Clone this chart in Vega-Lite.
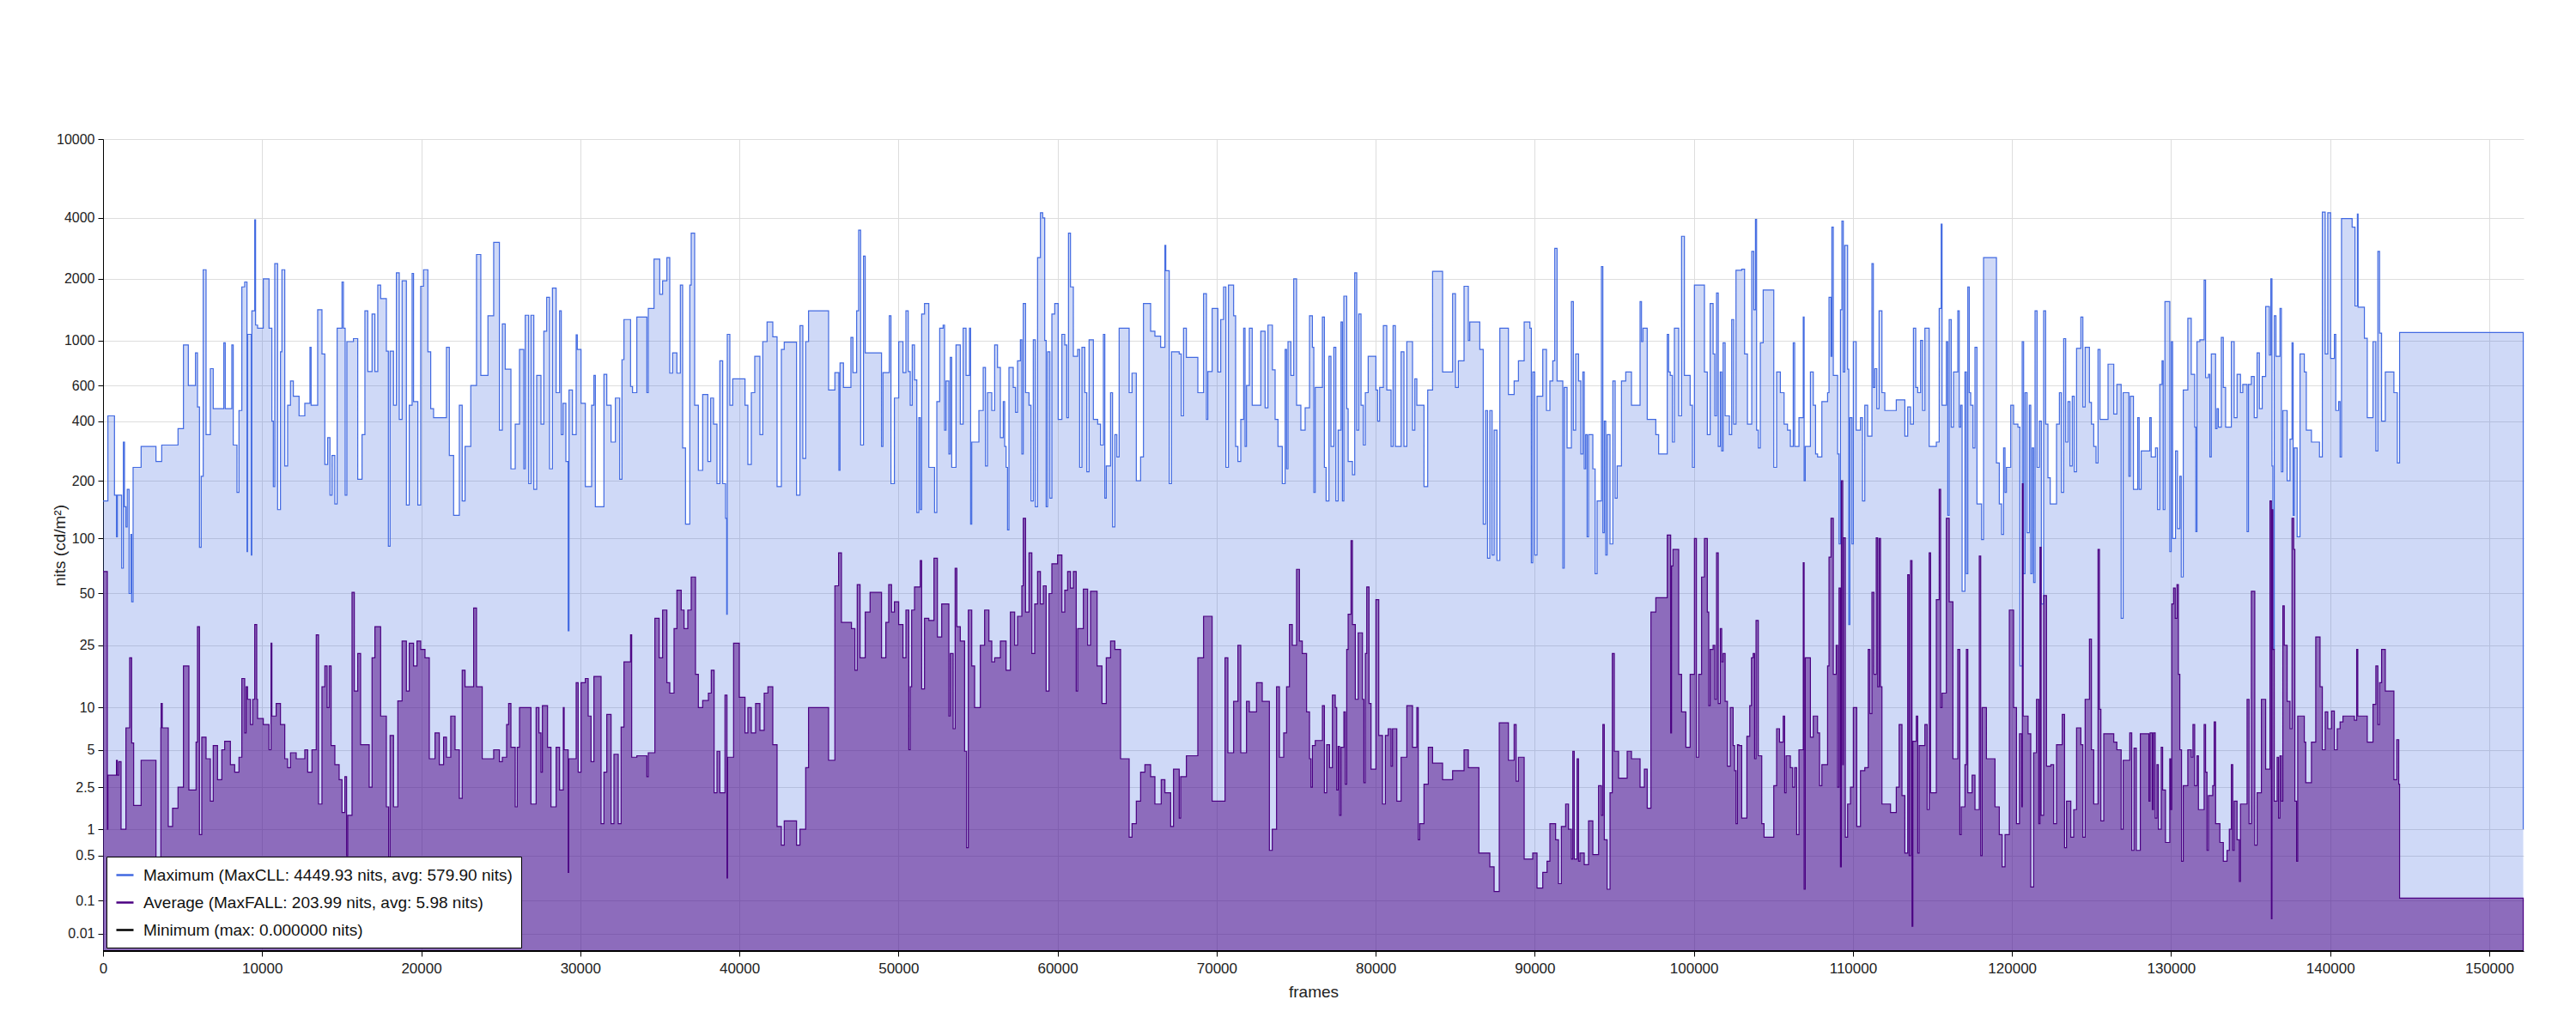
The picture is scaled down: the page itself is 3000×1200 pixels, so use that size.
{
"$schema": "https://vega.github.io/schema/vega-lite/v6.json",
"width": 2819,
"height": 946,
"autosize": {"type": "none"},
"padding": {"left": 120, "top": 162, "right": 61, "bottom": 92},
"background": "white",
"config": {"font": "Liberation Sans", "view": {"stroke": null}},
"datasets": {
"mx": [
{"f":0,"v":165},{"f":306,"v":430},{"f":719,"v":175},{"f":845,"v":103},{"f":900,"v":175},{"f":1169,"v":73},{"f":1277,"v":330},{"f":1350,"v":155},{"f":1439,"v":120},{"f":1520,"v":185},{"f":1637,"v":50},{"f":1750,"v":107},{"f":1800,"v":46},{"f":1889,"v":245},{"f":2393,"v":315},{"f":3328,"v":265},{"f":3688,"v":320},{"f":4713,"v":375},{"f":5055,"v":960},{"f":5361,"v":600},{"f":5811,"v":890},{"f":5937,"v":480},{"f":6062,"v":92},{"f":6170,"v":215},{"f":6296,"v":2300},{"f":6476,"v":355},{"f":6746,"v":750},{"f":6926,"v":470},{"f":7592,"v":980},{"f":7682,"v":470},{"f":8095,"v":960},{"f":8185,"v":320},{"f":8419,"v":180},{"f":8545,"v":460},{"f":8725,"v":1870},{"f":8905,"v":1950},{"f":9049,"v":88},{"f":9085,"v":1100},{"f":9319,"v":85},{"f":9355,"v":1480},{"f":9535,"v":3940},{"f":9589,"v":1250},{"f":9715,"v":1200},{"f":10074,"v":2000},{"f":10434,"v":1200},{"f":10614,"v":400},{"f":10704,"v":190},{"f":10794,"v":2500},{"f":10974,"v":150},{"f":11154,"v":900},{"f":11244,"v":2300},{"f":11424,"v":250},{"f":11603,"v":490},{"f":11783,"v":640},{"f":11963,"v":540},{"f":12323,"v":430},{"f":12683,"v":500},{"f":13007,"v":940},{"f":13079,"v":490},{"f":13492,"v":1500},{"f":13762,"v":880},{"f":13942,"v":255},{"f":14122,"v":345},{"f":14266,"v":175},{"f":14392,"v":285},{"f":14572,"v":160},{"f":14716,"v":1200},{"f":15022,"v":1950},{"f":15112,"v":1200},{"f":15220,"v":175},{"f":15328,"v":990},{"f":15741,"v":1030},{"f":16011,"v":205},{"f":16281,"v":355},{"f":16461,"v":1480},{"f":16641,"v":725},{"f":16910,"v":1430},{"f":17090,"v":725},{"f":17270,"v":1900},{"f":17450,"v":1680},{"f":17810,"v":905},{"f":17936,"v":93},{"f":18044,"v":905},{"f":18260,"v":490},{"f":18440,"v":2200},{"f":18620,"v":410},{"f":18799,"v":1970},{"f":19069,"v":158},{"f":19249,"v":490},{"f":19429,"v":2180},{"f":19519,"v":510},{"f":19789,"v":158},{"f":19969,"v":1880},{"f":20149,"v":2300},{"f":20419,"v":900},{"f":20598,"v":470},{"f":20778,"v":420},{"f":21588,"v":940},{"f":21768,"v":285},{"f":22038,"v":140},{"f":22397,"v":490},{"f":22577,"v":165},{"f":22757,"v":315},{"f":23117,"v":600},{"f":23477,"v":2800},{"f":23747,"v":690},{"f":24196,"v":1400},{"f":24556,"v":3200},{"f":24916,"v":370},
{"f":25100,"v":1270},{"f":25280,"v":745},{"f":25640,"v":240},{"f":25910,"v":390},{"f":26179,"v":920},{"f":26449,"v":240},{"f":26539,"v":1410},{"f":26755,"v":195},{"f":26899,"v":1410},{"f":27079,"v":185},{"f":27259,"v":690},{"f":27529,"v":390},{"f":27709,"v":1150},{"f":27888,"v":1700},{"f":28068,"v":240},{"f":28248,"v":1850},{"f":28482,"v":560},{"f":28698,"v":1480},{"f":28806,"v":355},{"f":28914,"v":500},{"f":29094,"v":265},{"f":29238,"v":32},{"f":29292,"v":575},{"f":29508,"v":355},{"f":29741,"v":1090},{"f":29813,"v":920},{"f":30047,"v":500},{"f":30317,"v":190},{"f":30713,"v":490},{"f":30857,"v":690},{"f":30947,"v":155},{"f":31486,"v":700},{"f":31666,"v":490},{"f":31936,"v":330},{"f":32206,"v":530},{"f":32476,"v":205},{"f":32620,"v":830},{"f":32746,"v":1340},{"f":33160,"v":595},{"f":33285,"v":560},{"f":33555,"v":1380},{"f":34185,"v":560},{"f":34275,"v":1520},{"f":34635,"v":2650},{"f":34995,"v":1750},{"f":35174,"v":1970},{"f":35444,"v":2700},{"f":35624,"v":710},{"f":35804,"v":890},{"f":36074,"v":710},{"f":36290,"v":1900},{"f":36434,"v":310},{"f":36614,"v":125},{"f":36884,"v":1900},{"f":36973,"v":3500},{"f":37189,"v":490},{"f":37423,"v":235},{"f":37693,"v":550},{"f":38017,"v":265},{"f":38197,"v":530},{"f":38377,"v":390},{"f":38593,"v":195},{"f":38772,"v":820},{"f":38952,"v":195},{"f":39132,"v":135},{"f":39204,"v":40},{"f":39240,"v":1100},{"f":39402,"v":490},{"f":39582,"v":660},{"f":40356,"v":490},{"f":40535,"v":255},{"f":40751,"v":560},{"f":40967,"v":860},{"f":41291,"v":355},{"f":41471,"v":990},{"f":41741,"v":1300},{"f":42101,"v":1060},{"f":42370,"v":190},{"f":42640,"v":920},{"f":42820,"v":985},{"f":43594,"v":175},{"f":43810,"v":1240},{"f":43990,"v":275},{"f":44169,"v":990},{"f":44349,"v":1480},{"f":45609,"v":575},{"f":46004,"v":715},{"f":46256,"v":235},{"f":46328,"v":800},{"f":46544,"v":590},{"f":47012,"v":1050},{"f":47138,"v":715},{"f":47372,"v":1480},{"f":47498,"v":3600},{"f":47623,"v":320},{"f":47803,"v":2750},{"f":47911,"v":890},{"f":48937,"v":315},{"f":49027,"v":715},{"f":49423,"v":1400},{"f":49530,"v":195},{"f":49746,"v":530},{"f":50016,"v":990},{"f":50286,"v":715},
{"f":50470,"v":1480},{"f":50614,"v":725},{"f":50740,"v":490},{"f":50866,"v":960},{"f":51010,"v":650},{"f":51154,"v":145},{"f":51280,"v":420},{"f":51370,"v":150},{"f":51459,"v":1430},{"f":51639,"v":1600},{"f":51909,"v":245},{"f":52269,"v":145},{"f":52413,"v":510},{"f":52593,"v":1200},{"f":52809,"v":1250},{"f":52899,"v":370},{"f":52989,"v":640},{"f":53169,"v":290},{"f":53258,"v":850},{"f":53348,"v":245},{"f":53618,"v":960},{"f":53888,"v":390},{"f":54068,"v":1200},{"f":54248,"v":690},{"f":54464,"v":1200},{"f":54536,"v":125},{"f":54608,"v":330},{"f":55057,"v":460},{"f":55327,"v":760},{"f":55471,"v":250},{"f":55597,"v":560},{"f":55867,"v":460},{"f":56047,"v":960},{"f":56227,"v":760},{"f":56407,"v":345},{"f":56587,"v":510},{"f":56677,"v":315},{"f":56767,"v":245},{"f":56857,"v":115},{"f":56946,"v":760},{"f":57216,"v":590},{"f":57360,"v":450},{"f":57486,"v":820},{"f":57666,"v":1010},{"f":57756,"v":290},{"f":57846,"v":1600},{"f":57990,"v":560},{"f":58206,"v":490},{"f":58332,"v":165},{"f":58476,"v":1010},{"f":58602,"v":155},{"f":58745,"v":2700},{"f":58925,"v":4400},{"f":59069,"v":4000},{"f":59195,"v":1000},{"f":59285,"v":155},{"f":59375,"v":900},{"f":59519,"v":170},{"f":59645,"v":1430},{"f":59825,"v":1600},{"f":60041,"v":410},{"f":60275,"v":1100},{"f":60454,"v":960},{"f":60580,"v":420},{"f":60688,"v":3500},{"f":60814,"v":1870},{"f":60994,"v":860},{"f":61264,"v":920},{"f":61390,"v":245},{"f":61534,"v":940},{"f":61714,"v":560},{"f":61840,"v":230},{"f":61983,"v":1010},{"f":62253,"v":410},{"f":62523,"v":390},{"f":62703,"v":320},{"f":62883,"v":1100},{"f":62973,"v":170},{"f":63063,"v":250},{"f":63333,"v":560},{"f":63459,"v":120},{"f":63603,"v":355},{"f":63729,"v":280},{"f":63873,"v":1200},{"f":64502,"v":560},{"f":64682,"v":710},{"f":64952,"v":200},{"f":65222,"v":280},{"f":65402,"v":1600},{"f":65852,"v":1150},{"f":66121,"v":1070},{"f":66481,"v":940},{"f":66751,"v":3100},{"f":66805,"v":2270},{"f":67021,"v":195},{"f":67165,"v":900},{"f":67650,"v":880},{"f":67776,"v":430},{"f":67920,"v":1200},{"f":68100,"v":850},{"f":68820,"v":560},{"f":69180,"v":1760},{"f":69360,"v":410},{"f":69450,"v":725},{"f":69719,"v":1520},{"f":70079,"v":720},{"f":70259,"v":1340},{"f":70439,"v":1870},{"f":70583,"v":245},{"f":70745,"v":1900},{"f":71069,"v":1400},{"f":71195,"v":315},{"f":71339,"v":265},{"f":71519,"v":410},{"f":71699,"v":1200},{"f":71789,"v":315},{"f":71879,"v":600},{"f":72058,"v":1200},{"f":72238,"v":490},{"f":72418,"v":490},{"f":72778,"v":1150},{"f":73048,"v":475},{"f":73228,"v":1250},{"f":73508,"v":740},{"f":73678,"v":410},{"f":73858,"v":315},{"f":74128,"v":195},{"f":74308,"v":920},{"f":74398,"v":240},{"f":74488,"v":990},{"f":74668,"v":690},{"f":74848,"v":2000},{"f":75026,"v":490},{"f":75296,"v":370},{"f":75566,"v":475},
{"f":75840,"v":1400},{"f":76020,"v":940},{"f":76110,"v":180},{"f":76200,"v":590},{"f":76650,"v":1380},{"f":76775,"v":245},{"f":76883,"v":165},{"f":77063,"v":860},{"f":77189,"v":315},{"f":77369,"v":940},{"f":77495,"v":165},{"f":77639,"v":370},{"f":77819,"v":1300},{"f":77909,"v":165},{"f":77999,"v":1720},{"f":78179,"v":470},{"f":78269,"v":265},{"f":78539,"v":220},{"f":78682,"v":2200},{"f":78808,"v":370},{"f":78934,"v":1430},{"f":79078,"v":490},{"f":79222,"v":320},{"f":79348,"v":560},{"f":79528,"v":860},{"f":80014,"v":575},{"f":80122,"v":400},{"f":80248,"v":590},{"f":80481,"v":1240},{"f":80697,"v":575},{"f":80967,"v":315},{"f":81093,"v":1240},{"f":81237,"v":315},{"f":81597,"v":900},{"f":81777,"v":315},{"f":81957,"v":990},{"f":82316,"v":370},{"f":82460,"v":660},{"f":82586,"v":490},{"f":82766,"v":490},{"f":83036,"v":190},{"f":83270,"v":575},{"f":83576,"v":2250},{"f":84205,"v":720},{"f":84835,"v":1760},{"f":85015,"v":590},{"f":85195,"v":820},{"f":85554,"v":1880},{"f":85824,"v":1000},{"f":85914,"v":1300},{"f":86544,"v":920},{"f":86760,"v":125},{"f":86904,"v":460},{"f":87030,"v":82},{"f":87174,"v":460},{"f":87318,"v":85},{"f":87444,"v":370},{"f":87624,"v":80},{"f":87804,"v":1200},{"f":88344,"v":550},{"f":88703,"v":640},{"f":88973,"v":820},{"f":89333,"v":1300},{"f":89693,"v":1200},{"f":89783,"v":78},{"f":89872,"v":720},{"f":89998,"v":85},{"f":90142,"v":540},{"f":90502,"v":920},{"f":90736,"v":460},{"f":90951,"v":640},{"f":91131,"v":820},{"f":91257,"v":3000},{"f":91401,"v":640},{"f":91581,"v":640},{"f":91761,"v":73},{"f":91851,"v":590},{"f":92031,"v":310},{"f":92301,"v":1630},{"f":92427,"v":370},{"f":92571,"v":880},{"f":92751,"v":640},{"f":92895,"v":290},{"f":93020,"v":720},{"f":93110,"v":240},{"f":93200,"v":355},{"f":93290,"v":103},{"f":93380,"v":355},{"f":93650,"v":240},{"f":93794,"v":68},{"f":93920,"v":165},{"f":94190,"v":2400},{"f":94280,"v":110},{"f":94370,"v":400},{"f":94460,"v":85},{"f":94550,"v":355},{"f":94730,"v":95},{"f":94909,"v":640},{"f":95053,"v":170},{"f":95179,"v":250},{"f":95449,"v":640},{"f":95719,"v":720},{"f":96079,"v":490},{"f":96619,"v":1630},{"f":96709,"v":990},{"f":96799,"v":1200},{"f":97068,"v":410},{"f":97608,"v":355},{"f":97788,"v":290},{"f":98328,"v":1100},{"f":98418,"v":720},{"f":98517,"v":690},{"f":98651,"v":330},{"f":98777,"v":1200},{"f":99047,"v":430},{"f":99227,"v":3400},{"f":99407,"v":690},{"f":99767,"v":490},{"f":99911,"v":245},{"f":100036,"v":1900},{"f":100666,"v":720},{"f":100846,"v":355},{"f":101026,"v":1600},
{"f":101210,"v":880},{"f":101318,"v":430},{"f":101426,"v":1770},{"f":101534,"v":315},{"f":101660,"v":720},{"f":101750,"v":300},{"f":101840,"v":980},{"f":101966,"v":430},{"f":102235,"v":355},{"f":102379,"v":1340},{"f":102505,"v":390},{"f":102649,"v":2280},{"f":103009,"v":2320},{"f":103189,"v":880},{"f":103369,"v":390},{"f":103639,"v":2900},{"f":103765,"v":1500},{"f":103872,"v":3950},{"f":103944,"v":370},{"f":104052,"v":310},{"f":104178,"v":980},{"f":104358,"v":1820},{"f":105024,"v":245},{"f":105204,"v":720},{"f":105438,"v":560},{"f":105672,"v":390},{"f":105887,"v":370},{"f":106067,"v":315},{"f":106247,"v":980},{"f":106337,"v":315},{"f":106607,"v":420},{"f":106877,"v":1380},{"f":106931,"v":200},{"f":107003,"v":315},{"f":107327,"v":720},{"f":107507,"v":490},{"f":107651,"v":290},{"f":107777,"v":280},{"f":108047,"v":510},{"f":108406,"v":560},{"f":108496,"v":1700},{"f":108622,"v":860},{"f":108676,"v":3700},{"f":108766,"v":690},{"f":109036,"v":290},{"f":109126,"v":95},{"f":109216,"v":1500},{"f":109306,"v":3900},{"f":109396,"v":720},{"f":109485,"v":3100},{"f":109665,"v":745},{"f":109737,"v":35},{"f":109809,"v":420},{"f":109935,"v":95},{"f":110025,"v":990},{"f":110205,"v":370},{"f":110475,"v":420},{"f":110601,"v":165},{"f":110745,"v":490},{"f":110925,"v":350},{"f":111194,"v":2500},{"f":111284,"v":590},{"f":111374,"v":750},{"f":111500,"v":470},{"f":111644,"v":1480},{"f":111824,"v":560},{"f":112004,"v":460},{"f":112724,"v":520},{"f":113263,"v":350},{"f":113443,"v":480},{"f":113623,"v":390},{"f":113803,"v":1200},{"f":113947,"v":590},{"f":114073,"v":560},{"f":114253,"v":1000},{"f":114379,"v":460},{"f":114523,"v":1200},{"f":114793,"v":315},{"f":115242,"v":330},{"f":115422,"v":1520},{"f":115548,"v":3800},{"f":115602,"v":490},{"f":115872,"v":990},{"f":115962,"v":140},{"f":116052,"v":1340},{"f":116178,"v":380},{"f":116322,"v":720},{"f":116592,"v":1480},{"f":116682,"v":380},{"f":116772,"v":490},{"f":116862,"v":52},{"f":117042,"v":720},{"f":117132,"v":68},{"f":117222,"v":1870},{"f":117312,"v":560},{"f":117402,"v":490},{"f":117546,"v":310},{"f":117672,"v":940},{"f":117798,"v":160},{"f":118086,"v":99},{"f":118211,"v":2700},{"f":119021,"v":260},{"f":119200,"v":160},{"f":119344,"v":107},{"f":119470,"v":310},{"f":119560,"v":180},{"f":119650,"v":245},{"f":119920,"v":490},{"f":120100,"v":390},{"f":120370,"v":380},{"f":120496,"v":20},{"f":120640,"v":990},{"f":120730,"v":68},{"f":120820,"v":560},{"f":120946,"v":110},{"f":121088,"v":490},{"f":121178,"v":68},{"f":121268,"v":310},{"f":121358,"v":60},{"f":121448,"v":1480},{"f":121574,"v":245},{"f":121718,"v":400},{"f":121844,"v":45},{"f":121988,"v":1480},{"f":122114,"v":390},{"f":122258,"v":210},{"f":122402,"v":160},{"f":122798,"v":390},{"f":122978,"v":560},{"f":123104,"v":180},{"f":123248,"v":1030},{"f":123374,"v":330},{"f":123518,"v":510},{"f":123643,"v":250},{"f":123787,"v":540},{"f":123913,"v":230},{"f":124057,"v":930},{"f":124327,"v":1380},{"f":124453,"v":480},{"f":124597,"v":940},{"f":124867,"v":505},{"f":124993,"v":390},{"f":125137,"v":315},{"f":125281,"v":260},{"f":125407,"v":920},{"f":125533,"v":410},{"f":126036,"v":790},{"f":126396,"v":440},
{"f":126590,"v":610},{"f":126860,"v":38},{"f":126986,"v":560},{"f":127346,"v":215},{"f":127436,"v":540},{"f":127633,"v":185},{"f":127903,"v":420},{"f":127993,"v":185},{"f":128119,"v":300},{"f":128659,"v":420},{"f":128749,"v":280},{"f":129019,"v":310},{"f":129145,"v":150},{"f":129289,"v":610},{"f":129432,"v":820},{"f":129504,"v":150},{"f":129612,"v":1630},{"f":129918,"v":88},{"f":130008,"v":990},{"f":130098,"v":100},{"f":130278,"v":300},{"f":130404,"v":117},{"f":130548,"v":215},{"f":130638,"v":65},{"f":130764,"v":575},{"f":131052,"v":1360},{"f":131267,"v":700},{"f":131483,"v":380},{"f":131555,"v":112},{"f":131627,"v":990},{"f":131807,"v":1010},{"f":132077,"v":1980},{"f":132167,"v":670},{"f":132347,"v":700},{"f":132437,"v":280},{"f":132527,"v":880},{"f":132797,"v":375},{"f":132887,"v":470},{"f":132977,"v":380},{"f":133157,"v":1050},{"f":133282,"v":590},{"f":133426,"v":380},{"f":133786,"v":990},{"f":133966,"v":420},{"f":134146,"v":700},{"f":134362,"v":560},{"f":134506,"v":610},{"f":134776,"v":112},{"f":134865,"v":610},{"f":135045,"v":680},{"f":135225,"v":420},{"f":135405,"v":890},{"f":135549,"v":470},{"f":135729,"v":680},{"f":135945,"v":1550},{"f":136179,"v":870},{"f":136269,"v":2000},{"f":136341,"v":250},{"f":136395,"v":24},{"f":136485,"v":1400},{"f":136592,"v":860},{"f":136844,"v":1520},{"f":136934,"v":230},{"f":137024,"v":460},{"f":137294,"v":200},{"f":137474,"v":340},{"f":137600,"v":980},{"f":137672,"v":140},{"f":137744,"v":310},{"f":137924,"v":103},{"f":138104,"v":880},{"f":138374,"v":720},{"f":138500,"v":370},{"f":138823,"v":330},{"f":139327,"v":280},{"f":139507,"v":4450},{"f":139687,"v":880},{"f":139849,"v":4400},{"f":140029,"v":840},{"f":140263,"v":1100},{"f":140353,"v":460},{"f":140533,"v":510},{"f":140623,"v":280},{"f":140713,"v":3980},{"f":141379,"v":3700},{"f":141559,"v":1560},{"f":141710,"v":4300},{"f":141755,"v":1540},{"f":142151,"v":1035},{"f":142331,"v":420},{"f":142691,"v":990},{"f":142871,"v":300},{"f":142997,"v":2900},{"f":143105,"v":1120},{"f":143231,"v":400},{"f":143465,"v":720},{"f":144005,"v":560},{"f":144221,"v":260},{"f":144364,"v":1130},{"f":152136,"v":1}
],
"av": [
{"f":0,"v":70},{"f":270,"v":1.0},{"f":306,"v":3.3},{"f":845,"v":4.3},{"f":899,"v":3.3},{"f":989,"v":4.2},{"f":1133,"v":1.0},{"f":1439,"v":7.6},{"f":1673,"v":22},{"f":1799,"v":5.8},{"f":1925,"v":1.85},{"f":2393,"v":4.3},{"f":3328,"v":0.05},{"f":3634,"v":7.6},{"f":3652,"v":11},{"f":3724,"v":7.6},{"f":4101,"v":1.1},{"f":4371,"v":1.75},{"f":4713,"v":2.5},{"f":5055,"v":20},{"f":5397,"v":2.4},{"f":5847,"v":5.9},{"f":5937,"v":34},{"f":6062,"v":0.9},{"f":6206,"v":6.5},{"f":6476,"v":4.4},{"f":6746,"v":2.0},{"f":6926,"v":5.5},{"f":7196,"v":3.0},{"f":7466,"v":5.0},{"f":7646,"v":6},{"f":8005,"v":4},{"f":8275,"v":3.5},{"f":8545,"v":4.5},{"f":8725,"v":17},{"f":8905,"v":7},{"f":8995,"v":15},{"f":9085,"v":12},{"f":9265,"v":8},{"f":9409,"v":12},{"f":9535,"v":35},{"f":9661,"v":12},{"f":9715,"v":8.7},{"f":10074,"v":8},{"f":10434,"v":5},{"f":10560,"v":26},{"f":10614,"v":9},{"f":10884,"v":11},{"f":11154,"v":8},{"f":11424,"v":4.4},{"f":11603,"v":3.8},{"f":11783,"v":4.8},{"f":12143,"v":4.4},{"f":12683,"v":5},{"f":12863,"v":3.5},{"f":13133,"v":5},{"f":13402,"v":30},{"f":13546,"v":1.9},{"f":13762,"v":15},{"f":13942,"v":20},{"f":14086,"v":10},{"f":14212,"v":20},{"f":14338,"v":5.5},{"f":14572,"v":4},{"f":14842,"v":3},{"f":15022,"v":1.6},{"f":15202,"v":3.2},{"f":15310,"v":0.5},{"f":15382,"v":1.5},{"f":15652,"v":51},{"f":15796,"v":14},{"f":16011,"v":23},{"f":16191,"v":5.6},{"f":16731,"v":2.5},{"f":16910,"v":22},{"f":17090,"v":34},{"f":17450,"v":9},{"f":17810,"v":1.8},{"f":17954,"v":0.3},{"f":18044,"v":6.7},{"f":18260,"v":1.8},{"f":18530,"v":11.6},{"f":18799,"v":27},{"f":19069,"v":14},{"f":19249,"v":26},{"f":19519,"v":20},{"f":19735,"v":27},{"f":19969,"v":24},{"f":20239,"v":22},{"f":20509,"v":4.4},{"f":20868,"v":7},{"f":21138,"v":4},{"f":21408,"v":6.5},{"f":21588,"v":4.5},{"f":21858,"v":9},{"f":22128,"v":5},{"f":22397,"v":2.1},{"f":22577,"v":19},{"f":22757,"v":15},{"f":23297,"v":43},{"f":23477,"v":15},{"f":23837,"v":4.4},{"f":24556,"v":5},{"f":24916,"v":4.2},
{"f":25100,"v":4.5},{"f":25370,"v":8},{"f":25496,"v":11},{"f":25640,"v":5.3},{"f":25910,"v":1.8},{"f":26035,"v":5.3},{"f":26179,"v":10},{"f":26899,"v":1.9},{"f":27223,"v":10},{"f":27403,"v":7},{"f":27529,"v":3.5},{"f":27619,"v":10.5},{"f":27942,"v":5.3},{"f":28158,"v":1.8},{"f":28482,"v":5.3},{"f":28698,"v":2.4},{"f":28932,"v":10},{"f":28986,"v":5},{"f":29238,"v":0.35},{"f":29274,"v":4.4},{"f":29741,"v":16},{"f":29867,"v":3.5},{"f":30047,"v":16},{"f":30317,"v":17},{"f":30497,"v":9},{"f":30677,"v":4.2},{"f":30857,"v":17.5},{"f":31306,"v":1.2},{"f":31486,"v":3.5},{"f":31666,"v":9.2},{"f":31936,"v":1.2},{"f":32116,"v":4.7},{"f":32386,"v":1.2},{"f":32566,"v":7.7},{"f":32746,"v":21},{"f":33160,"v":30},{"f":33231,"v":4.5},{"f":33555,"v":4.6},{"f":34185,"v":3.2},{"f":34275,"v":4.8},{"f":34689,"v":38},{"f":34959,"v":22},{"f":35174,"v":42},{"f":35444,"v":16},{"f":35624,"v":13.5},{"f":35894,"v":33},{"f":36074,"v":53},{"f":36344,"v":42},{"f":36524,"v":33},{"f":36758,"v":42},{"f":36973,"v":65},{"f":37243,"v":18},{"f":37423,"v":10},{"f":37693,"v":11.7},{"f":38053,"v":13.5},{"f":38233,"v":19},{"f":38413,"v":2.3},{"f":38593,"v":4.9},{"f":38772,"v":2.3},{"f":39096,"v":13},{"f":39222,"v":0.3},{"f":39258,"v":4.5},{"f":39636,"v":26},{"f":39996,"v":12.5},{"f":40356,"v":7},{"f":40535,"v":10},{"f":40751,"v":7},{"f":41021,"v":11},{"f":41291,"v":7.3},{"f":41561,"v":13.5},{"f":41795,"v":15},{"f":42101,"v":5.6},{"f":42370,"v":1.1},{"f":42640,"v":0.7},{"f":42820,"v":1.3},{"f":43594,"v":0.7},{"f":43810,"v":1.0},{"f":44169,"v":3.8},{"f":44349,"v":10},{"f":45609,"v":4.3},{"f":46004,"v":57},{"f":46238,"v":87},{"f":46418,"v":36},{"f":47048,"v":33},{"f":47264,"v":19},{"f":47408,"v":58},{"f":47588,"v":22},{"f":47911,"v":41},{"f":48217,"v":51},{"f":48937,"v":22},{"f":49207,"v":36},{"f":49387,"v":58},{"f":49566,"v":41},{"f":49746,"v":46},{"f":50016,"v":35},{"f":50286,"v":22},
{"f":50470,"v":42},{"f":50650,"v":5},{"f":50740,"v":15},{"f":50830,"v":42},{"f":51010,"v":56},{"f":51370,"v":80},{"f":51459,"v":14.5},{"f":51639,"v":38},{"f":51909,"v":37},{"f":52233,"v":82},{"f":52449,"v":29},{"f":52719,"v":45},{"f":53169,"v":9},{"f":53258,"v":23},{"f":53438,"v":7.5},{"f":53564,"v":73},{"f":53672,"v":34},{"f":53888,"v":27},{"f":54158,"v":4.9},{"f":54284,"v":0.65},{"f":54392,"v":42},{"f":54608,"v":20},{"f":54788,"v":10},{"f":55147,"v":25},{"f":55417,"v":42},{"f":55687,"v":27},{"f":55867,"v":21},{"f":56047,"v":22},{"f":56407,"v":27},{"f":56767,"v":19},{"f":57036,"v":41},{"f":57306,"v":25},{"f":57486,"v":39},{"f":57756,"v":57},{"f":57846,"v":135},{"f":57990,"v":41},{"f":58206,"v":87},{"f":58386,"v":23},{"f":58566,"v":45},{"f":58745,"v":70},{"f":58925,"v":45},{"f":59105,"v":57},{"f":59285,"v":14},{"f":59465,"v":50},{"f":59645,"v":77},{"f":60005,"v":85},{"f":60275,"v":41},{"f":60454,"v":53},{"f":60634,"v":70},{"f":60814,"v":55},{"f":60994,"v":70},{"f":61174,"v":14},{"f":61264,"v":33},{"f":61624,"v":54},{"f":61894,"v":25},{"f":62074,"v":52},{"f":62488,"v":20},{"f":62793,"v":11},{"f":63063,"v":22},{"f":63333,"v":27},{"f":63603,"v":24},{"f":63963,"v":4.4},{"f":64502,"v":0.85},{"f":64682,"v":1.2},{"f":64952,"v":2},{"f":65222,"v":3.5},{"f":65492,"v":4},{"f":65852,"v":3.2},{"f":66121,"v":1.9},{"f":66517,"v":3},{"f":66751,"v":2.3},{"f":67111,"v":1.1},{"f":67291,"v":3.7},{"f":67650,"v":1.4},{"f":67740,"v":3.2},{"f":68100,"v":4.6},{"f":68820,"v":22},{"f":69180,"v":39},{"f":69719,"v":2},{"f":70529,"v":22},{"f":70709,"v":4.8},{"f":71069,"v":11.5},{"f":71339,"v":25},{"f":71519,"v":4.8},{"f":71879,"v":11.5},{"f":72058,"v":9.5},{"f":72508,"v":16},{"f":72868,"v":11.5},{"f":73318,"v":0.6},{"f":73498,"v":1.0},{"f":73768,"v":15},{"f":73948,"v":4.5},{"f":74218,"v":7},{"f":74398,"v":15},{"f":74578,"v":35},{"f":74758,"v":25},{"f":75026,"v":72},{"f":75206,"v":27},{"f":75386,"v":23},{"f":75656,"v":9.5},
{"f":75840,"v":4.4},{"f":75930,"v":2.5},{"f":76020,"v":5.5},{"f":76200,"v":6.1},{"f":76650,"v":10.5},{"f":76775,"v":2.3},{"f":76919,"v":5.6},{"f":77099,"v":3.8},{"f":77279,"v":13},{"f":77459,"v":10},{"f":77549,"v":2.4},{"f":77639,"v":5.4},{"f":77729,"v":1.5},{"f":77819,"v":5.3},{"f":77999,"v":9.5},{"f":78089,"v":2.7},{"f":78179,"v":24},{"f":78269,"v":40},{"f":78449,"v":98},{"f":78539,"v":35},{"f":78719,"v":12},{"f":78899,"v":31},{"f":79168,"v":12},{"f":79258,"v":2.8},{"f":79348,"v":23},{"f":79438,"v":56},{"f":79582,"v":11},{"f":79708,"v":3.7},{"f":80014,"v":47},{"f":80194,"v":6.7},{"f":80428,"v":1.9},{"f":80607,"v":6.7},{"f":80787,"v":7.5},{"f":80967,"v":3.9},{"f":81057,"v":7.5},{"f":81327,"v":2},{"f":81597,"v":4.5},{"f":81957,"v":10.5},{"f":82316,"v":5.3},{"f":82586,"v":10},{"f":82676,"v":0.8},{"f":82766,"v":1.2},{"f":83036,"v":2.7},{"f":83306,"v":5.3},{"f":83576,"v":4.1},{"f":84205,"v":3},{"f":84835,"v":3.6},{"f":85554,"v":5},{"f":85824,"v":3.8},{"f":86490,"v":0.55},{"f":87174,"v":0.4},{"f":87444,"v":0.18},{"f":87768,"v":8.2},{"f":88344,"v":4.3},{"f":88703,"v":8},{"f":88829,"v":2.9},{"f":88973,"v":4.5},{"f":89333,"v":0.47},{"f":89872,"v":0.55},{"f":90142,"v":0.21},{"f":90502,"v":0.35},{"f":90771,"v":0.45},{"f":90951,"v":1.2},{"f":91311,"v":0.8},{"f":91491,"v":0.25},{"f":91671,"v":1.1},{"f":91941,"v":1.9},{"f":92121,"v":1.0},{"f":92301,"v":0.47},{"f":92391,"v":4.9},{"f":92481,"v":0.47},{"f":92661,"v":4.4},{"f":92751,"v":0.45},{"f":92841,"v":0.55},{"f":93110,"v":0.42},{"f":93380,"v":1.3},{"f":93650,"v":0.52},{"f":94010,"v":2.6},{"f":94190,"v":1.5},{"f":94280,"v":8},{"f":94370,"v":0.8},{"f":94550,"v":0.2},{"f":94730,"v":2.3},{"f":94874,"v":23},{"f":94999,"v":4.9},{"f":95269,"v":3.1},{"f":95809,"v":4.9},{"f":96079,"v":4.4},{"f":96619,"v":2.5},{"f":96889,"v":3.7},{"f":97068,"v":1.75},{"f":97302,"v":41},{"f":97608,"v":48},{"f":98328,"v":106},{"f":98543,"v":7},{"f":98597,"v":75},{"f":98687,"v":90},{"f":99047,"v":18},{"f":99227,"v":9.5},{"f":99497,"v":5.3},{"f":99767,"v":18},{"f":100036,"v":100},{"f":100162,"v":4.5},{"f":100306,"v":18},{"f":100486,"v":65},{"f":100666,"v":100},{"f":100846,"v":41},{"f":100936,"v":10.5},{"f":101026,"v":24},
{"f":101210,"v":25},{"f":101318,"v":12},{"f":101426,"v":87},{"f":101534,"v":11},{"f":101660,"v":33},{"f":101750,"v":21},{"f":101840,"v":23},{"f":101966,"v":11.5},{"f":102110,"v":3.9},{"f":102290,"v":10},{"f":102469,"v":5.5},{"f":102559,"v":3.6},{"f":102649,"v":1.2},{"f":102739,"v":5.6},{"f":102829,"v":5.5},{"f":103009,"v":1.4},{"f":103333,"v":6.6},{"f":103513,"v":10.5},{"f":103621,"v":22},{"f":103729,"v":23},{"f":103818,"v":4.4},{"f":103908,"v":37},{"f":104052,"v":4.6},{"f":104268,"v":1.2},{"f":104412,"v":0.85},{"f":105024,"v":2.6},{"f":105204,"v":7.5},{"f":105384,"v":5.9},{"f":105618,"v":9},{"f":105708,"v":2.3},{"f":105798,"v":4.6},{"f":106067,"v":3.8},{"f":106211,"v":2.5},{"f":106337,"v":3.8},{"f":106463,"v":0.9},{"f":106607,"v":5},{"f":106877,"v":78},{"f":106931,"v":0.2},{"f":107003,"v":22},{"f":107327,"v":6.5},{"f":107507,"v":9},{"f":107777,"v":7},{"f":107903,"v":2.6},{"f":108047,"v":4},{"f":108406,"v":20},{"f":108496,"v":83},{"f":108622,"v":135},{"f":108766,"v":18},{"f":108946,"v":25},{"f":109036,"v":2.5},{"f":109126,"v":55},{"f":109216,"v":0.4},{"f":109270,"v":200},{"f":109360,"v":4},{"f":109396,"v":101},{"f":109521,"v":0.85},{"f":109665,"v":1.9},{"f":109845,"v":2.5},{"f":110025,"v":10},{"f":110241,"v":1.1},{"f":110475,"v":3.6},{"f":110745,"v":3.8},{"f":110961,"v":24},{"f":111068,"v":9.3},{"f":111194,"v":51},{"f":111320,"v":18},{"f":111464,"v":101},{"f":111554,"v":15},{"f":111644,"v":100},{"f":111734,"v":15},{"f":111824,"v":1.9},{"f":112364,"v":1.6},{"f":112724,"v":2.5},{"f":112904,"v":8},{"f":113083,"v":2.2},{"f":113263,"v":0.55},{"f":113443,"v":67},{"f":113533,"v":0.5},{"f":113623,"v":80},{"f":113713,"v":0.03},{"f":113767,"v":6},{"f":113983,"v":9},{"f":114073,"v":0.55},{"f":114163,"v":5.5},{"f":114523,"v":8},{"f":114667,"v":1.7},{"f":114793,"v":87},{"f":114883,"v":2.3},{"f":115242,"v":47},{"f":115422,"v":185},{"f":115512,"v":10},{"f":115602,"v":13.5},{"f":115872,"v":135},{"f":116052,"v":46},{"f":116286,"v":4.4},{"f":116592,"v":24},{"f":116718,"v":0.9},{"f":116808,"v":1.8},{"f":117042,"v":4},{"f":117132,"v":24},{"f":117222,"v":2.3},{"f":117492,"v":3.3},{"f":117672,"v":1.7},{"f":117942,"v":84},{"f":118032,"v":0.5},{"f":118121,"v":10},{"f":118391,"v":4.4},{"f":118931,"v":1.8},{"f":119200,"v":0.9},{"f":119380,"v":0.4},{"f":119560,"v":0.9},{"f":119830,"v":42},{"f":120100,"v":10},{"f":120280,"v":1.2},{"f":120469,"v":6.9},{"f":120613,"v":1.8},{"f":120650,"v":195},{"f":120700,"v":9},{"f":121009,"v":6.9},{"f":121178,"v":0.22},{"f":121358,"v":4.8},{"f":121538,"v":12},{"f":121682,"v":1.2},{"f":121760,"v":92},{"f":121830,"v":1.5},{"f":121988,"v":49},{"f":122168,"v":3.9},{"f":122438,"v":4},{"f":122618,"v":1.2},{"f":122798,"v":5.6},{"f":123158,"v":9.2},{"f":123302,"v":0.65},{"f":123427,"v":2},{"f":123697,"v":0.85},{"f":123877,"v":1.7},{"f":124057,"v":7.6},{"f":124327,"v":5.6},{"f":124453,"v":0.85},{"f":124597,"v":12},{"f":124867,"v":28},{"f":124993,"v":5},{"f":125137,"v":1.9},{"f":125407,"v":90},{"f":125497,"v":9.8},{"f":125587,"v":1.3},{"f":125767,"v":6.9},{"f":126396,"v":5.9},
{"f":126590,"v":5},{"f":126860,"v":1},{"f":126986,"v":4.3},{"f":127400,"v":7},{"f":127526,"v":0.6},{"f":127669,"v":5.2},{"f":127813,"v":0.6},{"f":128065,"v":6.9},{"f":128605,"v":2},{"f":128677,"v":7},{"f":128821,"v":1.7},{"f":128893,"v":7},{"f":129001,"v":1.4},{"f":129109,"v":4},{"f":129199,"v":1.0},{"f":129379,"v":5.3},{"f":129469,"v":2.4},{"f":129648,"v":0.75},{"f":129918,"v":4.4},{"f":129972,"v":1.7},{"f":130044,"v":45},{"f":130152,"v":55},{"f":130260,"v":38},{"f":130368,"v":58},{"f":130458,"v":18},{"f":130548,"v":5},{"f":130656,"v":0.45},{"f":130764,"v":2.6},{"f":131052,"v":5},{"f":131267,"v":4.5},{"f":131375,"v":8},{"f":131483,"v":2.6},{"f":131627,"v":4.6},{"f":131717,"v":1.7},{"f":132077,"v":8},{"f":132167,"v":3.5},{"f":132257,"v":0.6},{"f":132347,"v":2.2},{"f":132617,"v":2.6},{"f":132707,"v":8.3},{"f":132797,"v":1.2},{"f":133066,"v":0.75},{"f":133282,"v":0.45},{"f":133516,"v":0.6},{"f":133660,"v":1.0},{"f":133786,"v":4},{"f":133876,"v":0.6},{"f":133966,"v":2},{"f":134146,"v":0.8},{"f":134290,"v":0.27},{"f":134362,"v":1.9},{"f":134776,"v":12},{"f":134901,"v":1.2},{"f":135045,"v":52},{"f":135261,"v":0.7},{"f":135405,"v":2.3},{"f":135675,"v":12},{"f":135945,"v":3.7},{"f":136215,"v":165},{"f":136305,"v":0.05},{"f":136341,"v":150},{"f":136395,"v":24},{"f":136485,"v":2},{"f":136664,"v":4.5},{"f":136754,"v":1.4},{"f":136844,"v":4.6},{"f":136934,"v":2},{"f":137024,"v":44},{"f":137114,"v":25},{"f":137294,"v":11.5},{"f":137474,"v":7.5},{"f":137600,"v":135},{"f":137708,"v":90},{"f":137780,"v":2},{"f":137888,"v":0.45},{"f":137960,"v":9},{"f":138374,"v":5.9},{"f":138464,"v":2.8},{"f":138823,"v":5.9},{"f":139093,"v":29},{"f":139363,"v":15},{"f":139507,"v":5},{"f":139687,"v":9.5},{"f":139849,"v":7.5},{"f":140083,"v":9.6},{"f":140263,"v":5},{"f":140443,"v":7.5},{"f":140623,"v":8.3},{"f":140803,"v":9},{"f":141523,"v":8.5},{"f":141665,"v":24},{"f":141737,"v":9},{"f":142331,"v":5.9},{"f":142691,"v":10.8},{"f":142871,"v":20},{"f":142997,"v":8},{"f":143105,"v":16},{"f":143231,"v":24},{"f":143465,"v":14},{"f":144005,"v":3},{"f":144185,"v":6.2},{"f":144311,"v":2.7},{"f":144364,"v":0.12},{"f":152136,"v":0}
],
"mn": [{"f":0,"v":0},{"f":152136,"v":0}]
},
"encoding": {
"x": {"field": "f", "type": "quantitative",
"scale": {"domain": [0, 152160], "nice": false, "zero": false},
"axis": {"title": "frames", "values": [0,10000,20000,30000,40000,50000,60000,70000,80000,90000,100000,110000,120000,130000,140000,150000], "format": "d", "labelFontSize": 17, "labelFlush": false, "labelOverlap": false, "labelColor": "#222222", "labelPadding": 6, "tickSize": 6, "tickColor": "black", "domainColor": "black", "gridColor": "#dddddd", "titleFontSize": 19, "titleFontWeight": "normal", "titleColor": "#222222", "titlePadding": 10}},
"y": {"field": "v", "type": "quantitative",
"scale": {"domain": [0,0.01,0.1,0.5,1,2.5,5,10,25,50,100,200,400,600,1000,2000,4000,10000], "range": [946,925.68,887.04,834.88,804.15,755.12,711.52,662.46,589.73,529.48,465.36,398.14,328.70,287.21,234.67,162.90,91.95,0], "nice": false, "zero": false, "clamp": true},
"axis": {"title": "nits (cd/m²)", "values": [0.01,0.1,0.5,1,2.5,5,10,25,50,100,200,400,600,1000,2000,4000,10000], "labelExpr": "'' + datum.value", "labelFontSize": 16, "labelOverlap": false, "labelColor": "#222222", "labelPadding": 4, "tickSize": 6, "tickColor": "black", "domainColor": "black", "gridColor": "#dddddd", "titleFontSize": 19, "titleFontWeight": "normal", "titleColor": "#222222", "titleX": -51, "titleY": 473, "titleAngle": -90, "titleAlign": "center", "titleBaseline": "middle"}}
},
"layer": [
{"data": {"name": "mx"}, "mark": {"type": "area", "interpolate": "step-after", "color": "#4169E1", "fillOpacity": 0.25}},
{"data": {"name": "av"}, "mark": {"type": "area", "interpolate": "step-after", "color": "#4B0082", "fillOpacity": 0.5}},
{"data": {"name": "mx"}, "mark": {"type": "line", "interpolate": "step-after", "strokeWidth": 1.2},
 "encoding": {"color": {"datum": "Maximum (MaxCLL: 4449.93 nits, avg: 579.90 nits)", "type": "nominal",
  "scale": {"domain": ["Maximum (MaxCLL: 4449.93 nits, avg: 579.90 nits)", "Average (MaxFALL: 203.99 nits, avg: 5.98 nits)", "Minimum (max: 0.000000 nits)"], "range": ["#4169E1", "#4B0082", "#000000"]},
  "legend": {"orient": "bottom-left", "title": null, "offset": 4, "fillColor": "white", "strokeColor": "black", "padding": 10, "cornerRadius": 0, "symbolType": "stroke", "symbolSize": 400, "symbolStrokeWidth": 2.5, "labelFontSize": 19, "labelColor": "#111111", "labelOffset": 10, "rowPadding": 10, "labelLimit": 0}}}},
{"data": {"name": "av"}, "mark": {"type": "line", "interpolate": "step-after", "strokeWidth": 1.2},
 "encoding": {"color": {"datum": "Average (MaxFALL: 203.99 nits, avg: 5.98 nits)", "type": "nominal"}}},
{"data": {"name": "mn"}, "mark": {"type": "line", "interpolate": "step-after", "strokeWidth": 2},
 "encoding": {"color": {"datum": "Minimum (max: 0.000000 nits)", "type": "nominal"}}}
]
}
